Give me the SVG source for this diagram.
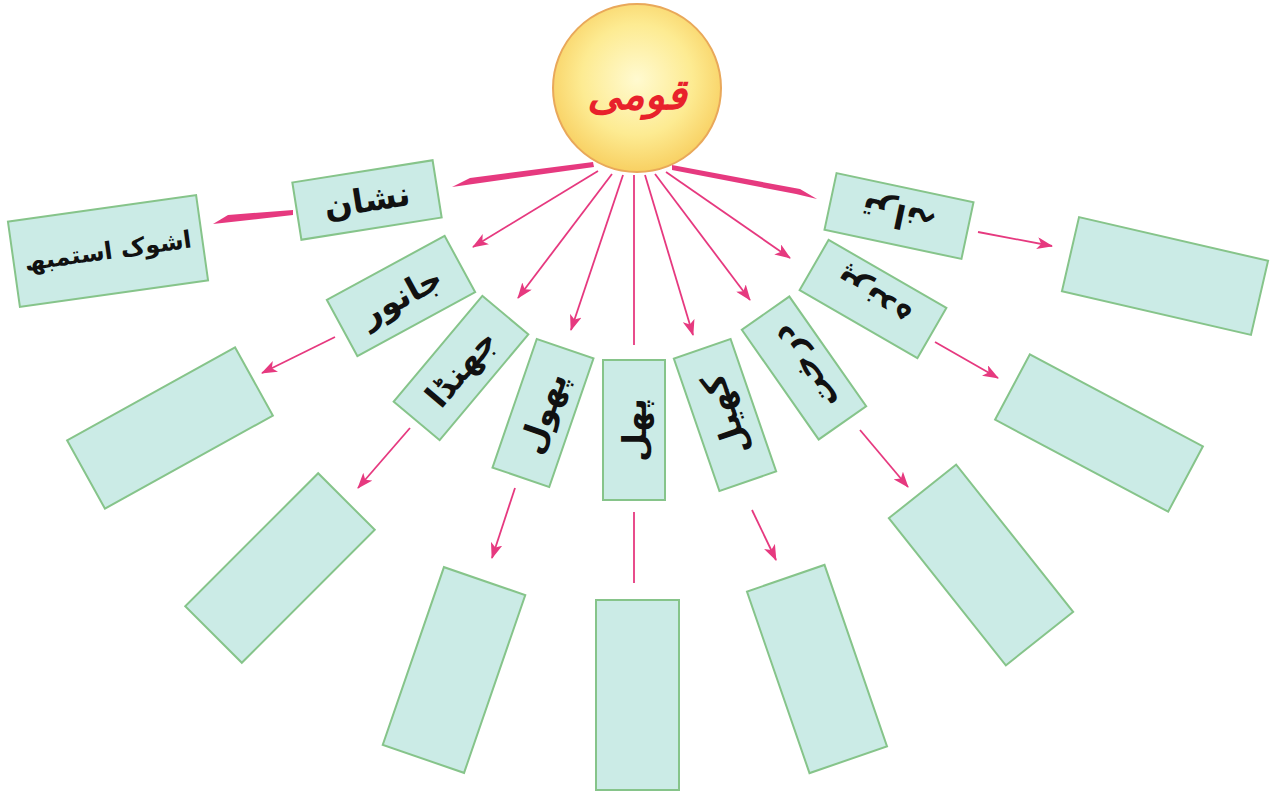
<svg xmlns="http://www.w3.org/2000/svg" width="1275" height="797" viewBox="0 0 1275 797">
<defs>
<radialGradient id="sun" cx="50%" cy="45%" r="55%">
<stop offset="0" stop-color="#fffad0"/>
<stop offset="0.6" stop-color="#fdeb92"/>
<stop offset="1" stop-color="#f8d062"/>
</radialGradient>
<marker id="ah" markerUnits="userSpaceOnUse" markerWidth="16" markerHeight="12" viewBox="0 0 16 12" refX="15" refY="6" orient="auto">
<path d="M0,0 L16,6 L0,12 L4,6 Z" fill="#e6397f"/>
</marker>
</defs>
<style>
.box{fill:#cbebe6;stroke:#86c48a;stroke-width:2}
.lbl{font-family:'DejaVu Sans',sans-serif;font-size:33px;font-weight:bold;fill:#111;text-anchor:middle;dominant-baseline:central}
.ln{stroke:#e6397f;stroke-width:1.8;fill:none}
.arr{stroke:#e6397f;stroke-width:1.8;fill:none;marker-end:url(#ah)}
.wedge{fill:#e6397f}
</style>
<rect width="1275" height="797" fill="#ffffff"/>

<g id="connectors">
<polygon class="wedge" points="593,162 470,178 452,187 594,167"/>
<polygon class="wedge" points="672,165 800,189 817,199 796,194 672,170"/>
<polygon class="wedge" points="293,210 228,215 213,224 293,215"/>
<line class="arr" x1="598" y1="171" x2="473" y2="247"/>
<line class="arr" x1="612" y1="174" x2="518" y2="298"/>
<line class="arr" x1="623" y1="175" x2="571" y2="330"/>
<line class="ln" x1="634" y1="175" x2="634" y2="345"/>
<line class="arr" x1="645" y1="175" x2="693" y2="335"/>
<line class="arr" x1="655" y1="174" x2="750" y2="300"/>
<line class="arr" x1="666" y1="172" x2="790" y2="258"/>
<line class="arr" x1="978" y1="232" x2="1052" y2="246"/>
<line class="arr" x1="335" y1="337" x2="262" y2="373"/>
<line class="arr" x1="410" y1="428" x2="358" y2="488"/>
<line class="arr" x1="515" y1="488" x2="492" y2="558"/>
<line class="ln" x1="634" y1="512" x2="634" y2="583"/>
<line class="arr" x1="752" y1="510" x2="776" y2="560"/>
<line class="arr" x1="860" y1="430" x2="908" y2="487"/>
<line class="arr" x1="935" y1="342" x2="998" y2="378"/>
</g>

<g id="sun-node">
<circle cx="637" cy="88" r="84" fill="url(#sun)" stroke="#e9a85a" stroke-width="2"/>
<text x="637" y="94" font-family="'DejaVu Sans',sans-serif" font-size="42" font-weight="bold" fill="#e8212b" text-anchor="middle" dominant-baseline="central" font-style="italic">قومی</text>
</g>

<g id="nishan" transform="translate(367,200) rotate(-9)">
<rect class="box" x="-71" y="-29" width="142" height="58"/>
<text class="lbl">نشان</text>
</g>
<g id="ashok" transform="translate(108,251) rotate(-8)">
<rect class="box" x="-95" y="-43" width="190" height="86"/>
<text class="lbl" style="font-size:24px">اشوک استمبھ</text>
</g>
<g id="tarana" transform="translate(899,216) rotate(12)">
<rect class="box" x="-70" y="-29" width="140" height="58"/>
<text class="lbl" transform="rotate(180)">ترانہ</text>
</g>
<g id="tarana-out" transform="translate(1165,276) rotate(13)">
<rect class="box" x="-97" y="-38" width="194" height="76"/>
</g>
<g id="janwar" transform="translate(401,296) rotate(-28.5)">
<rect class="box" x="-67" y="-32" width="134" height="64"/>
<text class="lbl">جانور</text>
</g>
<g id="janwar-out" transform="translate(170,428) rotate(-29)">
<rect class="box" x="-96" y="-39" width="192" height="78"/>
</g>
<g id="jhanda" transform="translate(461,368) rotate(-50)">
<rect class="box" x="-69" y="-30" width="138" height="60"/>
<text class="lbl">جھنڈا</text>
</g>
<g id="jhanda-out" transform="translate(280,568) rotate(-45)">
<rect class="box" x="-94" y="-40" width="188" height="80"/>
</g>
<g id="phool" transform="translate(543,413) rotate(19)">
<rect class="box" x="-30" y="-68" width="60" height="136"/>
<text class="lbl" transform="rotate(-90)">پھول</text>
</g>
<g id="phool-out" transform="translate(454,670) rotate(19)">
<rect class="box" x="-43" y="-94" width="86" height="188"/>
</g>
<g id="phal">
<rect class="box" x="603" y="360" width="62" height="140"/>
<text class="lbl" transform="translate(634,430) rotate(-90)">پھل</text>
</g>
<g id="phal-out">
<rect class="box" x="596" y="600" width="83" height="190"/>
</g>
<g id="khel" transform="translate(725,415) rotate(-19)">
<rect class="box" x="-30" y="-70" width="60" height="140"/>
<text class="lbl" transform="rotate(-90)">کھیل</text>
</g>
<g id="khel-out" transform="translate(817,669) rotate(-19)">
<rect class="box" x="-41" y="-96" width="82" height="192"/>
</g>
<g id="darakht" transform="translate(804,368) rotate(-35)">
<rect class="box" x="-29" y="-67" width="58" height="134"/>
<text class="lbl" transform="rotate(-90)">درخت</text>
</g>
<g id="darakht-out" transform="translate(981,565) rotate(-38.5)">
<rect class="box" x="-43" y="-94" width="86" height="188"/>
</g>
<g id="parinda" transform="translate(873,299) rotate(30)">
<rect class="box" x="-68" y="-29" width="136" height="58"/>
<text class="lbl" transform="rotate(180)">پرندہ</text>
</g>
<g id="parinda-out" transform="translate(1099,433) rotate(28)">
<rect class="box" x="-98" y="-37" width="196" height="74"/>
</g>
</svg>
